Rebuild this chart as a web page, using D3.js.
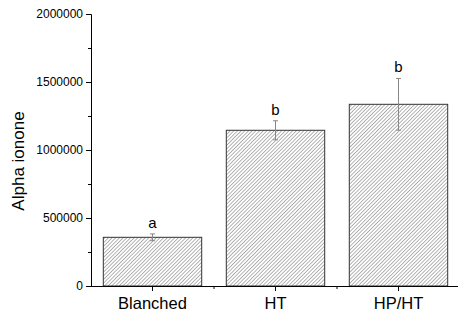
<!DOCTYPE html>
<html>
<head>
<meta charset="utf-8">
<script src="https://cdn.jsdelivr.net/npm/d3@7"></script>
<style>
  body { margin: 0; background: #fff; }
  text { font-family: "Liberation Sans", Arial, sans-serif; fill: #000; }
</style>
</head>
<body>
<div id="graph"></div>
<script>
// values
const categories = ["Blanched", "HT", "HP/HT"];
const means = [358000, 1145000, 1336000];
const errors = [25000, 70000, 190000];
const letters = ["a", "b", "b"];
const yTicks = [0, 500000, 1000000, 1500000, 2000000];
const yMinorTicks = [250000, 750000, 1250000, 1750000];

const svgWidth = 458;
const svgHeight = 323;

const svg = d3.select("#graph")
    .append("svg")
    .attr("width", svgWidth)
    .attr("height", svgHeight);

// hatch fill
const pat = svg.append("defs").append("pattern")
    .attr("id", "hatch")
    .attr("patternUnits", "userSpaceOnUse")
    .attr("width", 2.6)
    .attr("height", 2.6)
    .attr("patternTransform", "rotate(45)");
pat.append("rect").attr("width", 2.6).attr("height", 2.6).attr("fill", "#fff");
pat.append("line")
    .attr("x1", 0).attr("y1", 0).attr("x2", 0).attr("y2", 2.6)
    .attr("stroke", "#777").attr("stroke-width", 1.1);

const xScale = d3.scaleBand()
    .domain(categories)
    .range([91, 460])
    .paddingInner(0.2)
    .paddingOuter(0.1);

const yScale = d3.scaleLinear()
    .domain([0, 2000000])
    .range([286, 14]);

// bars
svg.selectAll(".bar")
    .data(categories)
    .enter().append("rect")
    .attr("class", "bar")
    .attr("x", d => xScale(d))
    .attr("width", xScale.bandwidth())
    .attr("y", (d, i) => yScale(means[i]))
    .attr("height", (d, i) => yScale(0) - yScale(means[i]))
    .attr("fill", "url(#hatch)")
    .attr("stroke", "#333")
    .attr("stroke-width", 1);

// error bars
const eb = svg.selectAll(".err")
    .data(categories)
    .enter().append("g")
    .attr("class", "err")
    .attr("stroke", "#888")
    .attr("stroke-width", 1);
const cx = d => xScale(d) + xScale.bandwidth() / 2;
eb.append("line")
    .attr("x1", cx).attr("x2", cx)
    .attr("y1", (d, i) => yScale(means[i] + errors[i]))
    .attr("y2", (d, i) => yScale(means[i] - errors[i]));
eb.append("line")
    .attr("x1", d => cx(d) - 2.5).attr("x2", d => cx(d) + 2.5)
    .attr("y1", (d, i) => yScale(means[i] + errors[i]))
    .attr("y2", (d, i) => yScale(means[i] + errors[i]));
eb.append("line")
    .attr("x1", d => cx(d) - 2.5).attr("x2", d => cx(d) + 2.5)
    .attr("y1", (d, i) => yScale(means[i] - errors[i]))
    .attr("y2", (d, i) => yScale(means[i] - errors[i]));

// significance letters
svg.selectAll(".letter")
    .data(categories)
    .enter().append("text")
    .attr("class", "letter")
    .attr("x", cx)
    .attr("y", (d, i) => yScale(means[i] + errors[i]) - 6)
    .attr("text-anchor", "middle")
    .style("font-size", "15px")
    .text((d, i) => letters[i]);

// y axis
const yAxis = svg.append("g")
    .attr("transform", "translate(91,0)")
    .call(d3.axisLeft(yScale).tickValues(yTicks).tickFormat(d3.format("d")).tickSize(5).tickPadding(3));
yAxis.selectAll("text").style("font-size", "12px");
yAxis.select(".domain").attr("stroke", "#000");
svg.append("g")
    .attr("transform", "translate(91,0)")
    .call(d3.axisLeft(yScale).tickValues(yMinorTicks).tickFormat("").tickSize(3))
    .select(".domain").remove();

// x axis
const xAxis = svg.append("g")
    .attr("transform", "translate(0,286)")
    .call(d3.axisBottom(xScale).tickSizeOuter(0).tickSize(5).tickPadding(6));
xAxis.selectAll("text").style("font-size", "16.5px");
xAxis.select(".domain").attr("d", "M91,0.5H458");
// minor ticks between categories
const step = xScale.step();
xAxis.selectAll(".minor")
    .data(categories.slice(1))
    .enter().append("line")
    .attr("x1", d => xScale(d) - (step - xScale.bandwidth()) / 2)
    .attr("x2", d => xScale(d) - (step - xScale.bandwidth()) / 2)
    .attr("y1", 0).attr("y2", 3)
    .attr("stroke", "#000");

svg.append("text")
    .attr("transform", "translate(24,161) rotate(-90)")
    .attr("text-anchor", "middle")
    .style("font-size", "17px")
    .text("Alpha ionone");
</script>
</body>
</html>
